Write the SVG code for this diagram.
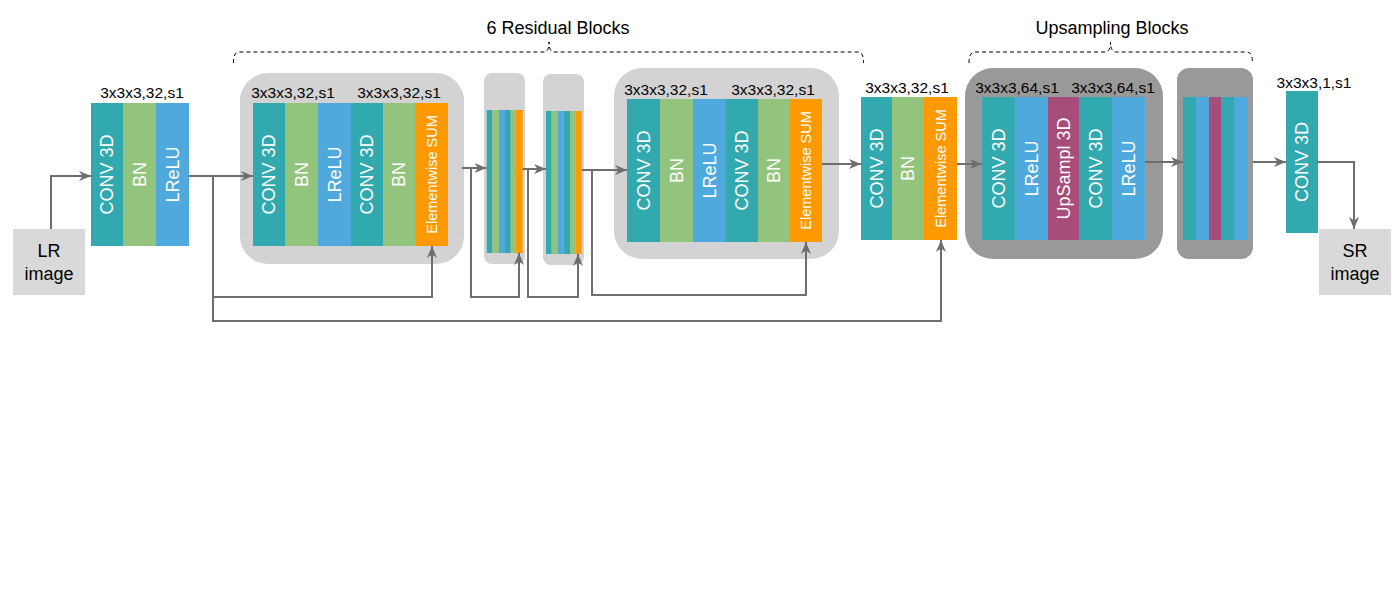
<svg xmlns="http://www.w3.org/2000/svg" width="1392" height="602" viewBox="0 0 1392 602">
<style>
text{font-family:"Liberation Sans",Arial,sans-serif}
.lbl{font-size:15.5px;fill:#000;text-anchor:middle}
.col{font-size:18px;fill:#fff;text-anchor:middle}
.sum{font-size:14.5px;fill:#fff;text-anchor:middle}
.img{font-size:18px;fill:#000;text-anchor:middle}
.hdr{font-size:18px;fill:#000;text-anchor:middle}
.t{fill:#31A9AF}.g{fill:#93C47D}.b{fill:#50A9DC}.o{fill:#FF9900}.p{fill:#A64D79}
.lg{fill:#D3D3D3}.dg{fill:#999999}.box{fill:#D9D9D9}
.ln{fill:none;stroke:#6E6E6E;stroke-width:2}
.ar{marker-end:url(#arr)}
.br{fill:none;stroke:#000;stroke-width:1;stroke-dasharray:4,3}
</style>
<defs>
<marker id="arr" markerUnits="userSpaceOnUse" markerWidth="13" markerHeight="11" refX="12" refY="5" orient="auto">
<path d="M0,0 L12,5 L0,10 L3.5,5 Z" fill="#6E6E6E"/>
</marker>
</defs>

<g id="braces">
<path class="br" d="M233.5,63 Q233.5,52 239,52 L544,52 Q549,52 549,42 Q549,52 554,52 L858,52 Q863.5,52 863.5,63"/>
<text class="hdr" x="558" y="34">6 Residual Blocks</text>
<path class="br" d="M969,63 Q969,52 975,52 L1105,52 Q1110.5,52 1110.5,42 Q1110.5,52 1116,52 L1247,52 Q1252.5,52 1252.5,63"/>
<text class="hdr" x="1112" y="34">Upsampling Blocks</text>
</g>

<g id="lr-image">
<rect class="box" x="13" y="229" width="72" height="66"/>
<text class="img" x="49" y="257">LR</text>
<text class="img" x="49" y="280">image</text>
</g>

<g id="block0">
<text class="lbl" x="142" y="97.5">3x3x3,32,s1</text>
<rect class="t" x="91" y="103" width="32" height="143"/>
<rect class="g" x="123" y="103" width="33" height="143"/>
<rect class="b" x="156" y="103" width="33" height="143"/>
<text class="col" transform="translate(107,174.5) rotate(-90)" dy="0.35em">CONV 3D</text>
<text class="col" transform="translate(139.5,174.5) rotate(-90)" dy="0.35em">BN</text>
<text class="col" transform="translate(172.5,174.5) rotate(-90)" dy="0.35em">LReLU</text>
</g>

<g id="resblock1">
<rect class="lg" x="240" y="73" width="224" height="191" rx="28"/>
<text class="lbl" x="293" y="97.5">3x3x3,32,s1</text>
<text class="lbl" x="399" y="97.5">3x3x3,32,s1</text>
<rect class="t" x="253" y="103" width="32" height="143"/>
<rect class="g" x="285" y="103" width="33" height="143"/>
<rect class="b" x="318" y="103" width="33" height="143"/>
<rect class="t" x="351" y="103" width="32" height="143"/>
<rect class="g" x="383" y="103" width="32" height="143"/>
<rect class="o" x="415" y="103" width="33" height="143"/>
<text class="col" transform="translate(269,174.5) rotate(-90)" dy="0.35em">CONV 3D</text>
<text class="col" transform="translate(301.5,174.5) rotate(-90)" dy="0.35em">BN</text>
<text class="col" transform="translate(334.5,174.5) rotate(-90)" dy="0.35em">LReLU</text>
<text class="col" transform="translate(367,174.5) rotate(-90)" dy="0.35em">CONV 3D</text>
<text class="col" transform="translate(399,174.5) rotate(-90)" dy="0.35em">BN</text>
<text class="sum" transform="translate(431.5,174.5) rotate(-90)" dy="0.35em">Elementwise SUM</text>
</g>

<g id="resblock2">
<rect class="lg" x="484" y="73" width="41" height="191" rx="8"/>
<rect class="t" x="486.7" y="110" width="5.6" height="143"/>
<rect class="g" x="492.3" y="110" width="6.7" height="143"/>
<rect class="b" x="499" y="110" width="6" height="143"/>
<rect class="t" x="505" y="110" width="5.7" height="143"/>
<rect class="g" x="510.7" y="110" width="5.3" height="143"/>
<rect class="o" x="516" y="110" width="6.7" height="143"/>
</g>

<g id="resblock3">
<rect class="lg" x="543" y="74" width="41" height="191" rx="8"/>
<rect class="t" x="546" y="111" width="5.7" height="143"/>
<rect class="g" x="551.7" y="111" width="6.3" height="143"/>
<rect class="b" x="558" y="111" width="5.7" height="143"/>
<rect class="t" x="563.7" y="111" width="6.3" height="143"/>
<rect class="g" x="570" y="111" width="5.7" height="143"/>
<rect class="o" x="575.7" y="111" width="6" height="143"/>
</g>

<g id="resblock6">
<rect class="lg" x="614" y="68" width="225" height="191" rx="28"/>
<text class="lbl" x="666" y="95">3x3x3,32,s1</text>
<text class="lbl" x="773" y="95">3x3x3,32,s1</text>
<rect class="t" x="627" y="99" width="33" height="143"/>
<rect class="g" x="660" y="99" width="33" height="143"/>
<rect class="b" x="693" y="99" width="33" height="143"/>
<rect class="t" x="726" y="99" width="32" height="143"/>
<rect class="g" x="758" y="99" width="32" height="143"/>
<rect class="o" x="790" y="99" width="32" height="143"/>
<text class="col" transform="translate(643.5,170.5) rotate(-90)" dy="0.35em">CONV 3D</text>
<text class="col" transform="translate(676.5,170.5) rotate(-90)" dy="0.35em">BN</text>
<text class="col" transform="translate(709.5,170.5) rotate(-90)" dy="0.35em">LReLU</text>
<text class="col" transform="translate(742,170.5) rotate(-90)" dy="0.35em">CONV 3D</text>
<text class="col" transform="translate(774,170.5) rotate(-90)" dy="0.35em">BN</text>
<text class="sum" transform="translate(806,170.5) rotate(-90)" dy="0.35em">Elementwise SUM</text>
</g>

<g id="post-res">
<text class="lbl" x="907" y="92.5">3x3x3,32,s1</text>
<rect class="t" x="861" y="97" width="31" height="143"/>
<rect class="g" x="892" y="97" width="32" height="143"/>
<rect class="o" x="924" y="97" width="33" height="143"/>
<text class="col" transform="translate(876.5,168.5) rotate(-90)" dy="0.35em">CONV 3D</text>
<text class="col" transform="translate(908,168.5) rotate(-90)" dy="0.35em">BN</text>
<text class="sum" transform="translate(940.5,168.5) rotate(-90)" dy="0.35em">Elementwise SUM</text>
</g>

<g id="upblock1">
<rect class="dg" x="965" y="68" width="198" height="191" rx="28"/>
<text class="lbl" x="1017" y="92.5">3x3x3,64,s1</text>
<text class="lbl" x="1113" y="92.5">3x3x3,64,s1</text>
<rect class="t" x="982" y="97" width="33" height="143"/>
<rect class="b" x="1015" y="97" width="33" height="143"/>
<rect class="p" x="1048" y="97" width="31" height="143"/>
<rect class="t" x="1079" y="97" width="33" height="143"/>
<rect class="b" x="1112" y="97" width="33" height="143"/>
<text class="col" transform="translate(998.5,168.5) rotate(-90)" dy="0.35em">CONV 3D</text>
<text class="col" transform="translate(1031.5,168.5) rotate(-90)" dy="0.35em">LReLU</text>
<text class="col" transform="translate(1063.5,168.5) rotate(-90)" dy="0.35em">UpSampl 3D</text>
<text class="col" transform="translate(1095.5,168.5) rotate(-90)" dy="0.35em">CONV 3D</text>
<text class="col" transform="translate(1128.5,168.5) rotate(-90)" dy="0.35em">LReLU</text>
</g>

<g id="upblock2">
<rect class="dg" x="1177" y="68" width="76" height="191" rx="12"/>
<rect class="t" x="1183" y="97" width="13" height="143"/>
<rect class="b" x="1196" y="97" width="13" height="143"/>
<rect class="p" x="1209" y="97" width="12" height="143"/>
<rect class="t" x="1221" y="97" width="13" height="143"/>
<rect class="b" x="1234" y="97" width="13" height="143"/>
</g>

<g id="final-conv">
<text class="lbl" x="1314" y="87.5">3x3x3,1,s1</text>
<rect class="t" x="1286" y="91" width="32" height="142"/>
<text class="col" transform="translate(1302,162) rotate(-90)" dy="0.35em">CONV 3D</text>
</g>

<g id="sr-image">
<rect class="box" x="1319" y="229" width="72" height="66"/>
<text class="img" x="1355" y="257">SR</text>
<text class="img" x="1355" y="280">image</text>
</g>

<g id="connectors">
<path class="ln ar" d="M51,229 V176 H91"/>
<path class="ln ar" d="M189,176 H253"/>
<path class="ln ar" d="M213,176 V297 H432 V246"/>
<path class="ln ar" d="M213,176 V321 H941 V240"/>
<path class="ln ar" d="M462,168 H486.5"/>
<path class="ln ar" d="M471,168 V297 H519 V253"/>
<path class="ln ar" d="M522.7,169 H546"/>
<path class="ln ar" d="M528,169 V297 H578 V254"/>
<path class="ln ar" d="M581.7,170 H627"/>
<path class="ln ar" d="M592,170 V295 H806 V242"/>
<path class="ln ar" d="M822,164 H861"/>
<path class="ln ar" d="M957,164 H982"/>
<path class="ln ar" d="M1145,162 H1183"/>
<path class="ln ar" d="M1253,162 H1286"/>
<path class="ln ar" d="M1318,162 H1354 V229"/>
</g>
</svg>
